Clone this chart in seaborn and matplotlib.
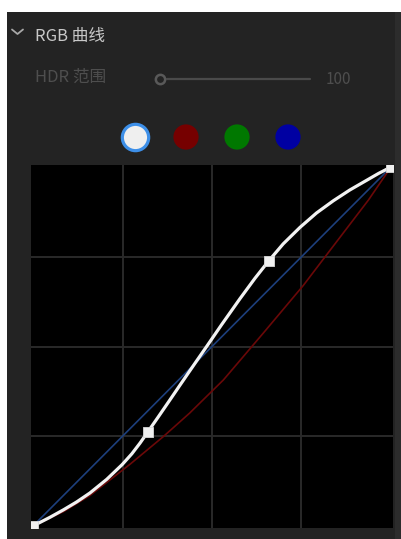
import matplotlib
matplotlib.use("Agg")
import matplotlib.pyplot as plt
from matplotlib.patches import Rectangle
import seaborn as sns

# curve values (input level -> output level, 0..1)
white_x = [0, 0.047, 0.085, 0.122, 0.159, 0.206, 0.249, 0.276, 0.299, 0.320, 0.350, 0.383, 0.411,
           0.453, 0.485, 0.527, 0.578, 0.620, 0.658, 0.699, 0.746, 0.792, 0.839, 0.885, 0.932, 0.965, 1.0]
white_y = [0, 0.024, 0.045, 0.067, 0.092, 0.130, 0.171, 0.201, 0.231, 0.261, 0.304, 0.352, 0.393,
           0.454, 0.500, 0.561, 0.633, 0.690, 0.738, 0.786, 0.832, 0.872, 0.906, 0.936, 0.963, 0.982, 1.0]

red_x = [0, 0.085, 0.159, 0.271, 0.364, 0.437, 0.532, 0.643, 0.755, 0.816, 0.937, 1.0]
red_y = [0, 0.040, 0.085, 0.172, 0.249, 0.314, 0.407, 0.537, 0.670, 0.750, 0.908, 1.0]

blue_x = [0, 1.0]
blue_y = [0, 1.0]

control_x = [0, 0.320, 0.658, 1.0]
control_y = [0, 0.261, 0.738, 1.0]

grid_ticks = [0.25, 0.5, 0.75]

# channel selector buttons
channels = ["RGB", "R", "G", "B"]
channel_colors = ["#efefef", "#760000", "#007800", "#0000a2"]

title_text = "RGB 曲线"
hdr_label = "HDR 范围"
hdr_value = 100

W, H = 401, 539
sns.set_theme(style="dark")
plt.rcParams["font.family"] = ["Noto Sans CJK SC", "DejaVu Sans"]

fig = plt.figure(figsize=(W / 100, H / 100), dpi=100)
fig.patch.set_facecolor("white")

# ---- panel / header drawn in pixel coordinates
ui = fig.add_axes([0, 0, 1, 1])
ui.set_xlim(0, W)
ui.set_ylim(H, 0)
ui.axis("off")
ui.add_patch(Rectangle((7, 12), 388, H - 12, color="#232323", lw=0))
ui.add_patch(Rectangle((395, 12), 6, H - 12, color="#2c2c2c", lw=0))

# chevron + section title
ui.plot([12, 17.5, 23], [29.5, 34, 29.5], color="#a8a8a8", lw=1.3, solid_capstyle="round")
ui.text(35, 36, title_text, color="#c8c8c8", fontsize=12, va="center", ha="left")

# HDR range slider
ui.text(35, 77, hdr_label, color="#4e4e4e", fontsize=12, va="center", ha="left")
ui.plot([167, 310], [79, 79], color="#4a4a4a", lw=1.6)
ui.scatter([160], [79], s=45, facecolor="#232323", edgecolor="#595959", linewidth=1.8, zorder=3)
ui.text(326, 79, str(hdr_value), color="#4e4e4e", fontsize=11, va="center", ha="left")

# channel buttons
btn_x = [135, 186, 237, 288]
btn_y = [137] * len(channels)
sns.scatterplot(x=btn_x[1:], y=btn_y[1:], hue=channels[1:], palette=channel_colors[1:],
                s=330, linewidth=0, legend=False, ax=ui)
ui.scatter(btn_x[:1], btn_y[:1], s=360, color=channel_colors[0],
           edgecolor="#3d8fe8", linewidth=2.3, zorder=4)

# ---- curve area
ax = fig.add_axes([31 / W, (H - 528) / H, 362 / W, 363 / H])
ax.set_facecolor("black")
pad = 0.0056
ax.set_xlim(-pad, 1 + pad)
ax.set_ylim(-pad, 1 + pad)
ax.set_xticks(grid_ticks)
ax.set_yticks(grid_ticks)
ax.tick_params(length=0, labelbottom=False, labelleft=False)
ax.grid(True, color="#2a2a2a", linewidth=1.4)
for s in ax.spines.values():
    s.set_visible(False)

sns.lineplot(x=blue_x, y=blue_y, color="#1d3f7c", linewidth=1.2, ax=ax, estimator=None, sort=False)
sns.lineplot(x=red_x, y=red_y, color="#6a0808", linewidth=1.2, ax=ax, estimator=None, sort=False)
sns.lineplot(x=white_x, y=white_y, color="#f2f2f2", linewidth=2.3, ax=ax, estimator=None, sort=False)
sns.scatterplot(x=control_x, y=control_y, marker="s", s=60, color="#f0f0f0",
                edgecolor="#d8d8d8", linewidth=0.6, ax=ax, zorder=5)
ax.set_xlabel("")
ax.set_ylabel("")

fig.savefig("out.png", dpi=100, facecolor=fig.get_facecolor())
